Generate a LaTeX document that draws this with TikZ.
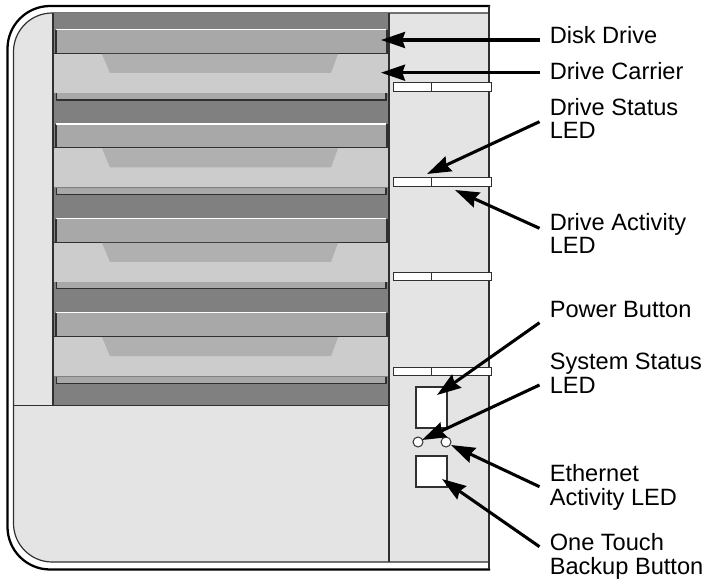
\documentclass[tikz,border=0pt]{standalone}
\usepackage{fontspec}
\setmainfont{Liberation Sans}
\usetikzlibrary{arrows.meta}
\definecolor{panel}{HTML}{E4E4E4}
\definecolor{bay}{HTML}{808080}
\definecolor{disk}{HTML}{A8A8A8}
\definecolor{carrier}{HTML}{CCCCCC}
\definecolor{notch}{HTML}{B0B0B0}
\definecolor{edge}{HTML}{303030}
\tikzset{
  x=0.75pt,y=-0.75pt,
  lbl/.style={anchor=base west,inner sep=0pt,align=left,font=\fontsize{17.7pt}{17.6pt}\selectfont},
  callout/.style={line width=2.3pt,black,-{Stealth[length=18pt,width=12pt,inset=2pt]}},
  ledbar/.style={fill=white,draw=edge,line width=0.75pt},
  btn/.style={fill=white,draw=edge,line width=1.1pt},
  ledc/.style={fill=white,draw=edge,line width=0.75pt,circle,inner sep=0pt,minimum size=7.5pt}
}
\begin{document}
\begin{tikzpicture}
\useasboundingbox (0,0) rectangle (709,580);
\fill[white] (0,0) rectangle (709,580);
% housing
\draw[line width=1.7pt,black] (490,6) [rounded corners=32pt] -- (7.5,6) -- (7.5,569.5) [sharp corners] -- (490,569.5);
\draw[fill=panel,draw=none] (489,13) [rounded corners=29pt] -- (13.5,13) -- (13.5,562) [sharp corners] -- (489,562) -- cycle;
\draw[edge,line width=0.9pt] (489,13) [rounded corners=29pt] -- (13.5,13) -- (13.5,562) [sharp corners] -- (489,562);
\draw[edge,line width=1.5pt] (489.3,6) -- (489.3,569);
\fill[bay] (53,13.5) rectangle (389,405.5);
% drive bays
\foreach \o in {0,94.4,188.8,283.2}{
  \begin{scope}[yshift=-0.75*\o pt]
    \fill[disk] (56,30) rectangle (386,53);
    \fill[edge] (54.8,30) rectangle (56.6,53);
    \fill[edge] (385.6,30) rectangle (387.6,53);
    \draw[white,line width=0.9pt] (56,29.7) -- (386,29.7);
    \fill[carrier] (53.5,53.5) rectangle (389,93);
    \draw[edge,line width=0.5pt] (53,53.3) -- (389,53.3);
    \fill[notch] (102,54) -- (110,73) -- (331,73) -- (338,54) -- cycle;
    \fill[disk] (56.5,93.5) rectangle (386,100);
    \draw[edge,line width=1pt] (56.5,93.5) -- (56.5,100) -- (386,100) -- (386,93.5);
  \end{scope}
}
\draw[edge,line width=0.9pt] (53,13) -- (53,405.5);
\draw[edge,line width=1pt] (13.5,405.7) -- (389,405.7);
\draw[edge,line width=1pt] (389,13) -- (389,562);
% LED bars
\foreach \y in {83,178,272.5,367}{
  \draw[ledbar] (393,\y) rectangle (491,\y+8.5);
  \draw[edge,line width=0.75pt] (431,\y) -- (431,\y+8.5);
}
% controls
\node[btn,minimum width=23.2pt,minimum height=30.7pt,inner sep=0pt] (power) at (431.5,407.5) {};
\node[btn,minimum width=23.2pt,minimum height=23pt,inner sep=0pt] (touch) at (431.5,471.5) {};
\node[ledc] (sysled) at (418,442) {};
\node[ledc] (ethled) at (446,442) {};
% anchor points
\coordinate (tDisk) at (381,40);
\coordinate (tCarrier) at (381,72.7);
\coordinate (tStatus) at (427,174);
\coordinate (tActivity) at (455,190);
\coordinate (tPower) at (437,395);
\coordinate (tSys) at (422,440);
\coordinate (tEth) at (451,445);
\coordinate (tTouch) at (442,479);
\coordinate (sDisk) at (539.5,40);
\coordinate (sCarrier) at (539.5,72.7);
\coordinate (sStatus) at (539.5,121.7);
\coordinate (sActivity) at (539.5,228.3);
\coordinate (sPower) at (539.5,322.7);
\coordinate (sSys) at (539.5,385);
\coordinate (sEth) at (539.5,486.7);
\coordinate (sTouch) at (539.5,546.7);
\draw[callout] (sDisk) -- (tDisk);
\draw[callout] (sCarrier) -- (tCarrier);
\draw[callout] (sStatus) -- (tStatus);
\draw[callout] (sActivity) -- (tActivity);
\draw[callout] (sPower) -- (tPower);
\draw[callout] (sSys) -- (tSys);
\draw[callout] (sEth) -- (tEth);
\draw[callout] (sTouch) -- (tTouch);
% labels (base anchor is the last line)
\node[lbl] (lDisk) at (549.5,43.3) {Disk Drive};
\node[lbl] (lCarrier) at (549.5,80) {Drive Carrier};
\node[lbl] (lStatus) at (549.5,139) {Drive Status\\LED};
\node[lbl] (lActivity) at (549.5,254) {Drive Activity\\LED};
\node[lbl] (lPower) at (549.5,318) {Power Button};
\node[lbl] (lSys) at (549.5,393) {System Status\\LED};
\node[lbl] (lEth) at (549.5,505) {Ethernet\\Activity LED};
\node[lbl] (lTouch) at (549.5,574) {One Touch\\Backup Button};
\end{tikzpicture}
\end{document}
